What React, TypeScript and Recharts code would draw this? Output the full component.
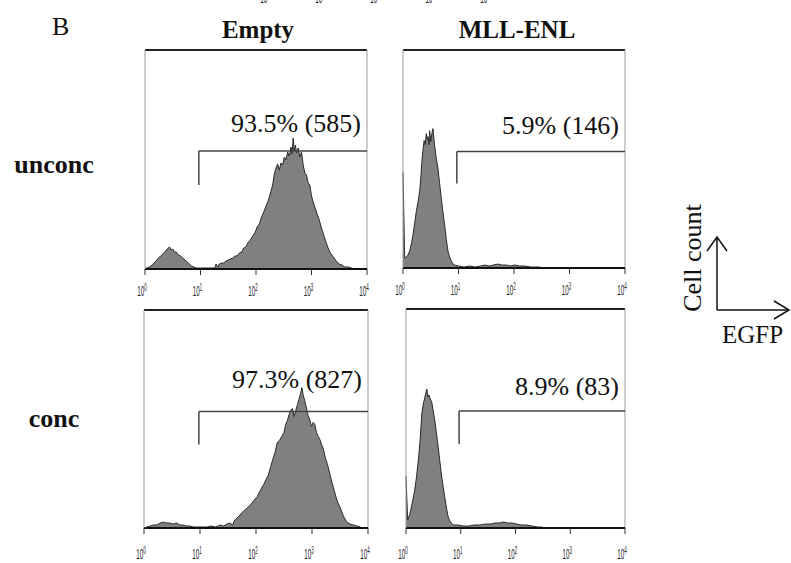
import { AreaChart, Area, XAxis, YAxis, ReferenceLine } from 'recharts';

// log-decade channel (0 = 10^0 ... 4 = 10^4) and cell count
const emptyUnconc: [number, number][] = [
  [0, 0], [0.03, 1], [0.08, 2], [0.13, 4], [0.18, 7], [0.23, 10], [0.28, 13], [0.32, 15], [0.36, 17], [0.4, 20],
  [0.44, 22], [0.47, 19], [0.5, 20], [0.53, 17], [0.56, 17], [0.6, 14], [0.64, 13], [0.68, 11], [0.72, 9], [0.76, 7],
  [0.8, 5], [0.84, 3], [0.88, 2], [0.92, 1], [1.0, 1], [1.1, 1], [1.2, 1], [1.26, 1], [1.28, 5], [1.31, 2],
  [1.34, 5], [1.38, 6], [1.42, 6], [1.46, 8], [1.5, 9], [1.54, 10], [1.58, 11], [1.62, 13], [1.66, 13], [1.7, 16],
  [1.74, 17], [1.78, 21], [1.82, 22], [1.86, 27], [1.9, 29], [1.94, 33], [1.98, 36], [2.02, 42], [2.06, 45], [2.1, 52],
  [2.14, 57], [2.18, 63], [2.22, 68], [2.26, 76], [2.3, 84], [2.33, 95], [2.36, 101], [2.39, 105], [2.42, 99], [2.45, 106],
  [2.48, 104], [2.51, 112], [2.54, 109], [2.57, 117], [2.6, 113], [2.63, 122], [2.65, 115], [2.67, 131], [2.69, 118], [2.71, 124],
  [2.73, 116], [2.76, 121], [2.79, 112], [2.82, 117], [2.85, 104], [2.88, 96], [2.91, 94], [2.94, 86], [2.97, 84], [3.0, 73],
  [3.03, 67], [3.06, 62], [3.1, 55], [3.14, 49], [3.18, 41], [3.22, 34], [3.26, 27], [3.3, 21], [3.34, 16], [3.38, 13],
  [3.42, 10], [3.46, 7], [3.5, 5], [3.55, 4], [3.6, 2], [3.66, 2], [3.72, 1], [3.76, 0],
];

const mllUnconc: [number, number][] = [
  [0, 96], [0.03, 10], [0.08, 12], [0.12, 17], [0.15, 24], [0.18, 33], [0.21, 45], [0.24, 57], [0.27, 66], [0.3, 77],
  [0.32, 90], [0.34, 107], [0.36, 118], [0.38, 128], [0.4, 124], [0.42, 135], [0.44, 129], [0.45, 132], [0.47, 124], [0.48, 138],
  [0.5, 127], [0.52, 135], [0.54, 140], [0.56, 128], [0.57, 123], [0.6, 110], [0.63, 100], [0.66, 85], [0.69, 70], [0.72, 56],
  [0.75, 43], [0.78, 29], [0.81, 17], [0.84, 11], [0.87, 7], [0.9, 4], [0.93, 3], [1.0, 2], [1.1, 1], [1.2, 2],
  [1.3, 1], [1.4, 2], [1.47, 3], [1.55, 2], [1.63, 3], [1.71, 4], [1.78, 3], [1.86, 3], [1.94, 2], [2.01, 3],
  [2.1, 2], [2.2, 2], [2.3, 1], [2.37, 1], [2.45, 1], [2.52, 0], [2.58, 0],
];

const emptyConc: [number, number][] = [
  [0, 0], [0.05, 1], [0.11, 2], [0.17, 3], [0.23, 3], [0.29, 5], [0.35, 6], [0.4, 5], [0.46, 5], [0.52, 4],
  [0.58, 5], [0.64, 3], [0.7, 3], [0.76, 2], [0.82, 2], [0.88, 1], [1.0, 1], [1.12, 1], [1.2, 2], [1.28, 1],
  [1.36, 3], [1.42, 2], [1.48, 4], [1.54, 5], [1.58, 3], [1.62, 8], [1.66, 10], [1.7, 12], [1.74, 15], [1.78, 17],
  [1.82, 19], [1.86, 21], [1.9, 23], [1.94, 26], [1.98, 29], [2.02, 31], [2.06, 36], [2.1, 40], [2.14, 44], [2.18, 49],
  [2.22, 53], [2.26, 61], [2.3, 69], [2.34, 76], [2.38, 86], [2.42, 88], [2.46, 92], [2.5, 96], [2.53, 104], [2.56, 108],
  [2.59, 114], [2.62, 118], [2.65, 120], [2.68, 112], [2.71, 118], [2.74, 124], [2.77, 130], [2.8, 136], [2.82, 141], [2.84, 134],
  [2.87, 128], [2.9, 121], [2.93, 113], [2.96, 109], [2.99, 102], [3.02, 106], [3.05, 104], [3.08, 96], [3.11, 92], [3.14, 89],
  [3.17, 84], [3.2, 80], [3.24, 70], [3.28, 63], [3.32, 54], [3.36, 45], [3.4, 37], [3.45, 27], [3.5, 21], [3.56, 12],
  [3.62, 6], [3.68, 4], [3.74, 3], [3.8, 2], [3.86, 1], [3.88, 0],
];

const mllConc: [number, number][] = [
  [0, 52], [0.03, 8], [0.07, 14], [0.11, 24], [0.15, 35], [0.19, 50], [0.23, 70], [0.26, 90], [0.29, 115], [0.32, 125],
  [0.35, 132], [0.38, 139], [0.4, 131], [0.42, 133], [0.45, 128], [0.47, 126], [0.5, 116], [0.53, 106], [0.56, 93], [0.59, 80],
  [0.62, 66], [0.65, 52], [0.68, 41], [0.71, 30], [0.74, 20], [0.77, 11], [0.8, 7], [0.83, 5], [0.86, 3], [0.95, 3],
  [1.05, 2], [1.15, 2], [1.25, 3], [1.35, 3], [1.45, 4], [1.55, 4], [1.62, 5], [1.7, 5], [1.78, 6], [1.86, 5],
  [1.94, 5], [2.02, 4], [2.1, 3], [2.2, 3], [2.3, 2], [2.4, 1], [2.48, 1], [2.51, 0],
];

const COLUMN_TITLES = ['Empty', 'MLL-ENL'];
const ROW_LABELS = ['unconc', 'conc'];
const X_TICKS = [0, 1, 2, 3, 4];
const X_TICK_EXP = ['0', '1', '2', '3', '4'];
const Y_TICKS = [0, 55, 110, 165, 219];
const GATE_LABELS = ['93.5% (585)', '5.9% (146)', '97.3% (827)', '8.9% (83)'];
const GATE_START = [0.97, 0.97, 0.98, 0.97];
const GATE_LEVEL = [118, 117, 117, 117];
const GATE_FOOT = [84, 85, 84, 84];

const SERIF = "'Liberation Serif', 'Times New Roman', Times, serif";
const NARROW = "'Liberation Sans Narrow', 'Liberation Sans', Arial, sans-serif";

// room around each plot so the squeezed tick labels stay inside the chart svg
const PAD_L = 12;
const AXIS_W = 6;
const PAD_R = 14;

const panels = [
  { data: emptyUnconc, left: 145, top: 50, w: 222, h: 219, rise: 19, drop: 19 },
  { data: mllUnconc, left: 403, top: 50, w: 222, h: 218, rise: 18, drop: 19 },
  { data: emptyConc, left: 144, top: 310, w: 224, h: 218, rise: 24, drop: 23 },
  { data: mllConc, left: 406, top: 309, w: 219, h: 219, rise: 16, drop: 23 },
];

// squeezed "10^n" label like the cytometer export
function Decade({ x, y, exp }: { x: number; y: number; exp: string }) {
  return (
    <text transform={`translate(${x},${y}) scale(0.45,1)`} textAnchor="middle" style={{ fontFamily: NARROW }}
      fontSize={14} fill="#222">
      10<tspan dy={-5} fontSize={10}>{exp}</tspan>
    </text>
  );
}

function DecadeTick({ x, y, payload, drop }: any) {
  const i = X_TICKS.indexOf(payload.value);
  return <Decade x={x - 3} y={y + drop} exp={X_TICK_EXP[i]} />;
}

function Histogram({ idx }: { idx: number }) {
  const p = panels[idx];
  const data = p.data.map(([d, n]) => ({ d, n }));
  const gs = GATE_START[idx];
  const level = GATE_LEVEL[idx];
  return (
    <div style={{ position: 'absolute', left: p.left - PAD_L - AXIS_W, top: p.top - 2 }}>
      <AreaChart width={PAD_L + AXIS_W + p.w + PAD_R} height={2 + p.h + 36} data={data}
        margin={{ top: 2, right: PAD_R, bottom: 0, left: PAD_L }}>
        <XAxis dataKey="d" type="number" domain={[0, 4]} ticks={X_TICKS} height={36}
          axisLine={{ stroke: '#111', strokeWidth: 2 }} tickLine={{ stroke: '#333' }} tickSize={6}
          tick={<DecadeTick drop={p.drop} />} interval={0} />
        <YAxis type="number" domain={[0, 219]} ticks={Y_TICKS} width={AXIS_W} tick={false}
          axisLine={{ stroke: '#999' }} tickLine={{ stroke: '#555' }} tickSize={3} />
        <Area type="linear" dataKey="n" stroke="#2a2a2a" strokeWidth={1} fill="#808080" fillOpacity={1}
          isAnimationActive={false} dot={false} activeDot={false} />
        <ReferenceLine y={219} stroke="#222" strokeWidth={2} />
        <ReferenceLine x={4} stroke="#999" strokeWidth={1} />
        <ReferenceLine segment={[{ x: gs, y: GATE_FOOT[idx] }, { x: gs, y: level }]} stroke="#444" strokeWidth={1.5} />
        <ReferenceLine segment={[{ x: gs, y: level }, { x: 4, y: level }]} stroke="#444" strokeWidth={1.5}
          label={(props: any) => {
            const vb = props.viewBox || {};
            return (
              <text x={vb.x + vb.width - 6} y={vb.y - p.rise} textAnchor="end" style={{ fontFamily: SERIF }}
                fontSize={26} fill="#111">{GATE_LABELS[idx]}</text>
            );
          }} />
      </AreaChart>
    </div>
  );
}

export default function App() {
  return (
    <div style={{ position: 'relative', width: 791, height: 563, background: '#fff', overflow: 'hidden', fontFamily: SERIF }}>
      <style>{'body{margin:0}'}</style>
      {panels.map((_, i) => <Histogram key={i} idx={i} />)}
      <svg width={791} height={563} style={{ position: 'absolute', left: 0, top: 0, pointerEvents: 'none', fontFamily: SERIF }}
        fill="#111">
        {[265, 320, 375, 430, 485].map((x, i) => <Decade key={i} x={x} y={3} exp={X_TICK_EXP[i]} />)}
        <text x={52} y={35} fontSize={26}>B</text>
        <text x={258} y={38} fontSize={25} fontWeight="bold" textAnchor="middle">{COLUMN_TITLES[0]}</text>
        <text x={517} y={38} fontSize={25} fontWeight="bold" textAnchor="middle">{COLUMN_TITLES[1]}</text>
        <text x={54} y={173} fontSize={26} fontWeight="bold" textAnchor="middle">{ROW_LABELS[0]}</text>
        <text x={54} y={427} fontSize={26} fontWeight="bold" textAnchor="middle">{ROW_LABELS[1]}</text>
        <text transform="translate(701,258) rotate(-90)" fontSize={26} textAnchor="middle">Cell count</text>
        <g stroke="#111" strokeWidth={1.5} fill="none">
          <line x1={717} y1={237} x2={717} y2={310} />
          <polyline points="707,251 717,237 727,251" />
          <line x1={717} y1={310} x2={789} y2={310} />
          <polyline points="774,301 789,310 774,319" />
        </g>
        <text x={722} y={343} fontSize={25}>EGFP</text>
      </svg>
    </div>
  );
}
